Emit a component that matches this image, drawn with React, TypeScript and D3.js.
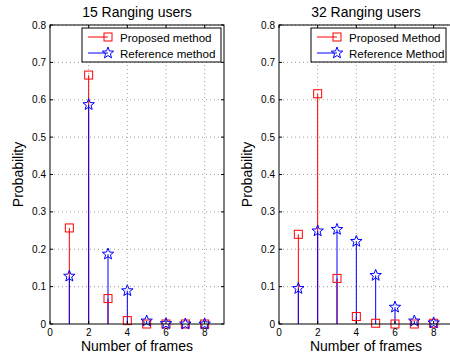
import React from "react";
import * as d3 from "d3";

const frames = [1, 2, 3, 4, 5, 6, 7, 8];
const proposed15 = [0.257, 0.666, 0.068, 0.009, 0.0, 0.0, 0.0, 0.0];
const reference15 = [0.128, 0.587, 0.187, 0.089, 0.008, 0.001, 0.0, 0.0];
const proposed32 = [0.24, 0.616, 0.122, 0.02, 0.002, 0.0, 0.0, 0.002];
const reference32 = [0.095, 0.249, 0.253, 0.221, 0.13, 0.045, 0.008, 0.003];
const yTicks = [0, 0.1, 0.2, 0.3, 0.4, 0.5, 0.6, 0.7, 0.8];
const xTicks = [0, 2, 4, 6, 8];

const FONT = "'Liberation Sans', Arial, Helvetica, sans-serif";

function starPath(cx: number, cy: number, R: number) {
  const r = R * 0.42;
  const pts: string[] = [];
  for (let i = 0; i < 10; i++) {
    const a = -Math.PI / 2 + (i * Math.PI) / 5;
    const rr = i % 2 === 0 ? R : r;
    pts.push(`${cx + rr * Math.cos(a)},${cy + rr * Math.sin(a)}`);
  }
  return "M" + pts.join("L") + "Z";
}

type PanelProps = {
  left: number;
  title: string;
  prop: number[];
  ref_: number[];
  labels: [string, string];
  lgW: number;
};

function Panel({ left, title, prop, ref_, labels, lgW }: PanelProps) {
  const x0 = left;
  const x1 = left + 174;
  const yTop = 25;
  const yBot = 324;
  const x = d3.scaleLinear().domain([0, 9]).range([x0, x1]);
  const y = d3.scaleLinear().domain([0, 0.8]).range([yBot, yTop]);
  const red = "#ff0000";
  const blue = "#0000ff";
  const sq = 8;
  const lgX = x0 + 32;
  const lgY = 28;
  return (
    <g fontFamily={FONT}>
      <text x={(x0 + x1) / 2} y={17} textAnchor="middle" fontSize={14}>
        {title}
      </text>
      {xTicks.filter((t) => t > 0).map((t) => (
        <line key={"gx" + t} x1={x(t)} x2={x(t)} y1={yTop} y2={yBot} stroke="#888" strokeWidth={0.8} strokeDasharray="1,3" />
      ))}
      {yTicks.filter((t) => t > 0).map((t) => (
        <line key={"gy" + t} x1={x0} x2={x1} y1={y(t)} y2={y(t)} stroke="#888" strokeWidth={0.8} strokeDasharray="1,3" />
      ))}
      {frames.map((f, i) => (
        <line key={"pr" + f} x1={x(f)} x2={x(f)} y1={y(0)} y2={y(prop[i])} stroke={red} strokeWidth={1} />
      ))}
      {frames.map((f, i) => (
        <line key={"rr" + f} x1={x(f)} x2={x(f)} y1={y(0)} y2={y(ref_[i])} stroke={blue} strokeWidth={1} />
      ))}
      {frames.map((f, i) => (
        <rect key={"ps" + f} x={x(f) - sq / 2} y={y(prop[i]) - sq / 2} width={sq} height={sq} fill="none" stroke={red} strokeWidth={1} />
      ))}
      {frames.map((f, i) => (
        <path key={"rs" + f} d={starPath(x(f), y(ref_[i]), 6)} fill="none" stroke={blue} strokeWidth={1} />
      ))}
      <rect x={x0} y={yTop} width={x1 - x0} height={yBot - yTop} fill="none" stroke="#000" strokeWidth={1} />
      {yTicks.map((t) => (
        <g key={"yt" + t}>
          <line x1={x0} x2={x0 + 3} y1={y(t)} y2={y(t)} stroke="#000" />
          <line x1={x1} x2={x1 - 3} y1={y(t)} y2={y(t)} stroke="#000" />
          <text x={x0 - 4} y={y(t) + 3.5} textAnchor="end" fontSize={10}>
            {t === 0 ? "0" : t.toFixed(1)}
          </text>
        </g>
      ))}
      {xTicks.map((t) => (
        <g key={"xt" + t}>
          <line x1={x(t)} x2={x(t)} y1={yBot} y2={yBot - 3} stroke="#000" />
          <line x1={x(t)} x2={x(t)} y1={yTop} y2={yTop + 3} stroke="#000" />
          <text x={x(t)} y={yBot + 12} textAnchor="middle" fontSize={10}>
            {t}
          </text>
        </g>
      ))}
      <text x={(x0 + x1) / 2} y={351} textAnchor="middle" fontSize={14}>
        Number of frames
      </text>
      <text transform={`translate(${x0 - 27},${(yTop + yBot) / 2}) rotate(-90)`} textAnchor="middle" fontSize={14}>
        Probability
      </text>
      <rect x={lgX} y={lgY} width={lgW} height={34} fill="#fff" stroke="#000" strokeWidth={1} />
      <line x1={lgX + 6} x2={lgX + 26} y1={lgY + 9} y2={lgY + 9} stroke={red} />
      <rect x={lgX + 26 - sq / 2} y={lgY + 9 - sq / 2} width={sq} height={sq} fill="none" stroke={red} />
      <text x={lgX + 38} y={lgY + 13.5} fontSize={11.6}>
        {labels[0]}
      </text>
      <line x1={lgX + 6} x2={lgX + 26} y1={lgY + 25} y2={lgY + 25} stroke={blue} />
      <path d={starPath(lgX + 26, lgY + 25, 6)} fill="none" stroke={blue} />
      <text x={lgX + 38} y={lgY + 29.5} fontSize={11.6}>
        {labels[1]}
      </text>
    </g>
  );
}

export default function App() {
  return (
    <svg width={450} height={355} style={{ position: "absolute", left: 0, top: 0, background: "#fff" }}>
      <rect width={450} height={355} fill="#fff" />
      <Panel left={50} title="15 Ranging users" prop={proposed15} ref_={reference15} labels={["Proposed method", "Reference method"]} lgW={139} />
      <Panel left={279} title="32 Ranging users" prop={proposed32} ref_={reference32} labels={["Proposed Method", "Reference Method"]} lgW={135} />
    </svg>
  );
}
